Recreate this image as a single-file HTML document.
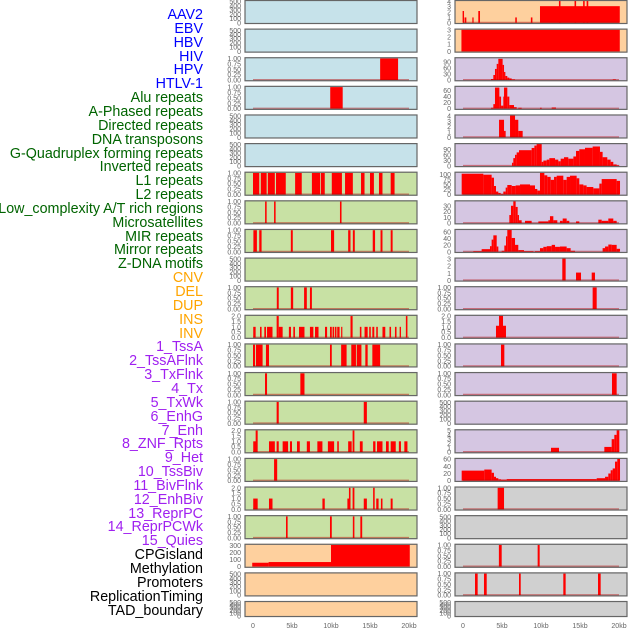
<!DOCTYPE html>
<html><head><meta charset="utf-8"><style>
body{margin:0;background:#fff;width:630px;height:630px;overflow:hidden;font-family:"Liberation Sans",sans-serif}
#lbls{position:absolute;left:0;top:0;width:630px;height:630px}
.lb{position:absolute;right:427px;font-size:14.3px;line-height:14px;white-space:nowrap}
svg{position:absolute;left:0;top:0}
</style></head><body>
<div id="lbls"></div>
<svg id="chart" width="630" height="630"></svg>
<script>
const labelNames=["AAV2","EBV","HBV","HIV","HPV","HTLV-1","Alu repeats","A-Phased repeats","Directed repeats","DNA transposons","G-Quadruplex forming repeats","Inverted repeats","L1 repeats","L2 repeats","Low_complexity A/T rich regions","Microsatellites","MIR repeats","Mirror repeats","Z-DNA motifs","CNV","DEL","DUP","INS","INV","1_TssA","2_TssAFlnk","3_TxFlnk","4_Tx","5_TxWk","6_EnhG","7_Enh","8_ZNF_Rpts","9_Het","10_TssBiv","11_BivFlnk","12_EnhBiv","13_ReprPC","14_ReprPCWk","15_Quies","CPGisland","Methylation","Promoters","ReplicationTiming","TAD_boundary"];
const labelColors=[["#0000ff",6],["#006400",13],["#ffa500",5],["#a020f0",15],["#000000",5]];
const xTicks=[0,5,10,15,20];
const xTickLabels=["0","5kb","10kb","15kb","20kb"];
// left column data: [startKb,endKb,value]
const L2=[[16.3,18.6,1]];
const L3=[[9.9,11.5,1]];
const L6=[[0,0.8,1],[1.0,1.75,1],[1.9,2.8,1],[2.95,4.2,1],[5.4,6.25,1],[7.55,8.6,1],[8.7,9.2,1],[10.1,11.4,1],[11.8,12.8,1],[13.85,14.3,1],[15.0,15.5,1],[16.15,16.6,1],[17.65,18.15,1]];
const L7=[[1.55,1.75,1],[2.7,2.9,1],[11.15,11.35,1]];
const L8=[[0.05,0.5,1],[0.8,1.1,1],[4.85,5.1,1],[10.0,10.4,1],[12.2,12.5,1],[12.8,13.05,1],[15.35,15.65,1],[16.35,16.6,1],[17.65,17.9,1]];
const L10=[[3.05,3.3,1],[4.85,5.15,1],[6.55,6.9,1],[7.3,7.55,1]];
const L11=[[0.03,0.34,1],[0.9,1.1,1],[1.45,1.67,1],[1.8,2.5,1],[3.03,3.3,2],[3.3,3.8,1],[4.6,4.87,1],[5.17,5.38,1],[5.9,6.6,1],[7.3,7.74,1],[7.95,8.4,1],[9.23,9.5,1],[9.87,10.1,1],[10.2,10.4,1],[10.5,10.7,1],[10.8,11.1,1],[11.3,11.45,1],[12.5,12.77,2],[13.7,13.9,1],[14.3,14.7,1],[14.9,15.1,1],[15.3,15.55,1],[15.8,16.0,1],[16.6,16.96,1],[17.5,17.7,1],[18.2,18.4,1],[18.8,18.97,1],[19.6,19.8,2]];
const L12=[[0,0.26,1],[0.38,1.23,1],[1.66,2.05,1],[9.87,10.1,1],[11.3,12.0,1],[12.6,13.2,1],[13.3,13.9,1],[14.4,14.7,1],[15.3,16.3,1]];
const L13=[[1.54,1.8,1],[6.07,6.6,1]];
const L14=[[3.03,3.3,1],[14.2,14.6,1]];
const L15=[[0.03,0.47,1],[0.34,0.6,2],[2.05,2.8,1],[3.03,3.3,1],[3.8,4.5,1],[4.74,5.0,1],[5.64,6.0,1],[6.9,7.3,1],[8.25,8.9,1],[9.6,10.4,1],[10.8,11.0,1],[12.2,12.65,1],[12.77,13.0,2],[13.7,14.06,1],[15.4,15.7,1],[15.9,16.6,1],[17.05,17.4,1],[17.65,18.3,1],[18.7,18.97,1],[19.4,19.8,1]];
const L16=[[2.7,3.1,1]];
const L17=[[0.03,0.6,1],[2.05,2.5,1],[8.9,9.2,1],[12.1,12.5,1],[12.3,12.5,2],[12.77,13.0,2],[14.2,14.6,1],[15.4,15.6,2],[15.8,16.1,1],[16.4,16.6,1],[17.65,17.9,1]];
const L18=[[4.23,4.44,1],[9.87,10.1,1],[12.8,13.0,1],[13.76,14.0,1]];
const L19=[[-0.1,2,55],[2,10,65],[10,20.1,310]];
// right column data
const R0=[[-0.05,0.13,2.2],[0.2,0.43,1],[1.2,1.36,1],[1.96,2.18,2.2],[6.7,6.9,1],[8.7,8.9,1],[9.87,20.1,3.1],[12.3,12.5,4.5],[14.3,14.5,4.5],[15.4,15.6,4.5],[15.85,16.06,4.5]];
const R1=[[-0.2,20.1,3]];
const R2=[[3.59,3.89,5],[3.89,4.1,25],[4.1,4.32,55],[4.32,4.53,80],[4.53,5.08,105],[5.08,5.26,75],[5.26,5.43,40],[5.43,5.68,20],[5.68,5.94,12],[5.94,6.24,8],[6.24,6.67,3],[19.2,19.6,3]];
const R3=[[3.59,3.89,3],[3.89,4.1,15],[4.1,4.66,70],[4.66,4.88,40],[4.88,5.17,10],[5.17,5.26,40],[5.26,5.68,70],[5.68,5.94,40],[5.94,6.54,12],[6.54,6.88,5],[7.09,7.52,3],[9.87,10.09,3],[11.37,11.92,4]];
const R4=[[4.62,5.26,3.3],[5.26,5.47,1.2],[6.03,6.67,4.2],[6.67,7.09,3.3],[7.09,7.65,1.2]];
const R5=[[6.28,6.45,17],[6.45,6.67,42],[6.67,6.88,60],[6.88,7.18,73],[7.18,8.8,85],[8.8,9.15,97],[9.15,9.44,110],[9.44,10.09,119],[10.09,10.3,22],[10.3,10.73,29],[10.73,11.07,34],[11.07,11.8,42],[11.8,12.22,34],[12.22,12.52,25],[12.52,12.95,39],[12.95,13.5,47],[13.5,14.15,39],[14.15,14.49,51],[14.49,14.91,81],[14.91,15.64,90],[15.64,16.62,98],[16.62,17.56,105],[17.56,17.9,76],[17.9,18.5,47],[18.5,18.93,34],[18.93,19.27,22],[19.27,19.7,8],[19.7,20.04,3]];
const R6=[[-0.17,2.61,105],[2.61,3.67,100],[3.67,3.97,85],[3.97,4.23,43],[4.23,4.53,15],[4.53,4.83,8],[4.83,5.17,3],[5.17,5.47,15],[5.47,5.68,35],[5.68,6.24,48],[6.24,6.75,43],[6.75,7.31,46],[7.31,8.59,51],[8.59,9.23,46],[9.23,9.53,28],[9.53,9.87,20],[9.87,10.43,109],[10.43,10.81,97],[10.81,11.24,89],[11.24,11.67,74],[11.67,12.01,89],[12.01,12.86,95],[12.86,13.29,74],[13.29,13.72,89],[13.72,14.57,95],[14.57,14.91,82],[14.91,15.43,51],[15.43,15.85,46],[15.85,16.71,38],[16.71,17.48,31],[17.48,17.78,55],[17.78,19.7,78],[19.7,20.13,69]];
const R7=[[5.94,6.15,14],[6.15,6.45,30],[6.45,6.75,38],[6.75,7.01,28],[7.01,7.18,14],[7.18,7.52,5],[7.95,8.8,4],[9.66,10.94,3],[10.94,11.15,5],[11.15,11.58,12],[11.58,12.09,5],[12.43,12.78,4],[12.78,13.29,8],[13.29,13.63,4],[14.49,14.91,3],[17.35,17.78,6],[17.78,18.63,4],[18.63,19.27,8],[19.27,19.7,4]];
const R8=[[1.32,2.39,2],[2.39,3.46,8],[3.46,3.67,17],[3.67,3.89,37],[3.89,4.32,50],[4.32,4.53,16],[4.96,5.3,3],[5.3,5.51,19],[5.51,5.68,47],[5.68,6.24,67],[6.24,6.67,42],[6.67,7.09,21],[7.09,7.82,5],[7.82,9.02,2],[9.23,9.87,2],[9.87,10.3,11],[10.3,10.73,15],[10.73,11.37,17],[11.37,11.8,21],[11.8,12.43,15],[12.43,13.29,16],[13.29,13.8,11],[13.8,14.36,3],[17.9,18.21,11],[18.21,18.63,16],[18.63,19.06,22],[19.06,19.7,21],[19.7,20.13,9]];
const R9=[[12.73,13.16,3.1],[14.49,15.13,1.1],[16.5,16.92,1.1]];
const R10=[[16.62,17.14,1]];
const R11=[[4.23,5.51,1.1],[4.62,5.13,2.1]];
const R12=[[4.87,5.3,1]];
const R13=[[19.1,19.7,1]];
const R15=[[11.28,12.31,1],[18.12,19.06,1.2],[19.06,19.4,3],[19.4,19.7,4],[19.7,20.04,5.1]];
const R16=[[-0.17,2.73,28],[2.73,3.67,31],[3.67,3.97,22],[3.97,4.23,11],[4.23,4.53,7],[4.53,4.87,4],[4.87,5.6,3],[5.6,17.14,4.5],[17.14,18.21,7],[18.21,18.63,11],[18.63,18.93,20],[18.93,19.19,29],[19.19,19.49,34],[19.49,19.78,53],[19.78,20.13,61]];
const R17=[[4.44,5.26,1]];
const R19=[[4.6,4.96,1],[9.57,9.83,1]];
const R20=[[1.54,1.88,1],[2.69,3.04,1],[7.18,7.4,1],[12.86,13.16,1],[17.31,17.65,1]];

const T500=[0,100,200,300,400,500],T1=[0,0.25,0.5,0.75,1],T1s=["0.00","0.25","0.50","0.75","1.00"],T2=[0,0.5,1,1.5,2],T2s=["0.0","0.5","1.0","1.5","2.0"];
const BLUE="#c6e2ea",GREEN="#c8e1a4",PEACH="#fed09e",LAV="#d5c6e2",GRAY="#d0d0d0";
function P(bg,data,ticks,tl,yMax,base){return {bg,data,ticks,tl:tl||ticks.map(String),yMax:yMax||ticks[ticks.length-1]*1.02,base:base!==false}}
const leftPanels=[P(BLUE,[],T500,null,520,false),P(BLUE,[],T500,null,520,false),P(BLUE,L2,T1,T1s),P(BLUE,L3,T1,T1s),P(BLUE,[],T500,null,520,false),P(BLUE,[],T500,null,520,false),
P(GREEN,L6,T1,T1s),P(GREEN,L7,T1,T1s),P(GREEN,L8,T1,T1s),P(GREEN,[],T500,null,520,false),P(GREEN,L10,T1,T1s),P(GREEN,L11,T2,T2s),P(GREEN,L12,T1,T1s),P(GREEN,L13,T1,T1s),P(GREEN,L14,T1,T1s),P(GREEN,L15,T2,T2s),P(GREEN,L16,T1,T1s),P(GREEN,L17,T2,T2s),P(GREEN,L18,T1,T1s),
P(PEACH,L19,[0,100,200,300],null,315,false),P(PEACH,[],T500,null,520,false),P(PEACH,[],T500,null,520,false)];
const rightPanels=[P(PEACH,R0,[0,1,2,3,4],null,4.1),P(PEACH,R1,[0,1,2,3],null,3.05,false),P(LAV,R2,[0,30,60,90],null,109),P(LAV,R3,[0,20,40,60],null,73),P(LAV,R4,[0,1,2,3,4],null,4.15),P(LAV,R5,[0,30,60,90],null,119),P(LAV,R6,[0,25,50,75,100],null,111),P(LAV,R7,[0,10,20,30],null,38),P(LAV,R8,[0,20,40,60],null,67),P(LAV,R9,[0,1,2,3],null,3.1),P(LAV,R10,T1,T1s),P(LAV,R11,T2,T2s),P(LAV,R12,T1,T1s),P(LAV,R13,T1,T1s),P(LAV,[],T500,null,520,false),P(LAV,R15,[0,1,2,3,4,5],null,5.1),P(LAV,R16,[0,20,40,60],null,61),
P(GRAY,R17,T1,T1s),P(GRAY,[],T500,null,520,false),P(GRAY,R19,T1,T1s),P(GRAY,R20,T1,T1s),P(GRAY,[],T500,null,520,false)];

const NS="http://www.w3.org/2000/svg",svg=document.getElementById('chart');
function el(t,a,p){const e=document.createElementNS(NS,t);for(const k in a)e.setAttribute(k,a[k]);(p||svg).appendChild(e);return e}
const lbl=document.getElementById('lbls');let li=0;
labelColors.forEach(([c,n])=>{for(let j=0;j<n;j++){const d=document.createElement('div');d.className='lb';d.style.color=c;d.style.top=(8+li*13.85)+'px';d.textContent=labelNames[li];


lbl.appendChild(d);li++;}});
function drawCol(panels,x0,x1,zeroX,colName){
  const kx=kb=>zeroX+kb*7.8;
  panels.forEach((p,i)=>{
    const top=i*28.62,h=(i==21?16:24),bot=top+h;
    const g=el('g',{});
    
    
    el('rect',{x:x0,y:top,width:x1-x0,height:h,fill:p.bg},g);
    const yv=v=>bot-1.2-Math.min(v,p.yMax)/p.yMax*(h-2);
    p.data.forEach(s=>{const a=Math.max(kx(s[0]),x0+1),b=Math.min(kx(s[1]),x1-1);
      const r=el('rect',{x:a,y:yv(s[2]),width:Math.max(b-a,1.2),height:bot-1.2-yv(s[2]),fill:'#ff0000'},g);
      
      });
    if(p.base){const l=el('line',{x1:kx(0),x2:kx(20),y1:bot-1.5,y2:bot-1.5,stroke:'#b40000','stroke-opacity':0.45,'stroke-width':1.5},g);
      
      }
    el('rect',{x:x0,y:top+0.5,width:x1-x0,height:h-1,fill:'none',stroke:'#666','stroke-width':1.2},g);
    p.ticks.forEach((t,k)=>{const tt=el('text',{x:x0-4,y:yv(t)+2.5,'text-anchor':'end','font-size':'7','fill':'#666','font-family':'Liberation Sans, sans-serif'},g);tt.textContent=p.tl[k];
      
      });
  });
  xTicks.forEach((t,k)=>{const tt=el('text',{x:kx(t),y:628,'text-anchor':'middle','font-size':'7','fill':'#666','font-family':'Liberation Sans, sans-serif'});tt.textContent=xTickLabels[k];
    
    });
}
drawCol(leftPanels,245,417,253,'left');
drawCol(rightPanels,455,627,463,'right');
</script>
</body></html>
